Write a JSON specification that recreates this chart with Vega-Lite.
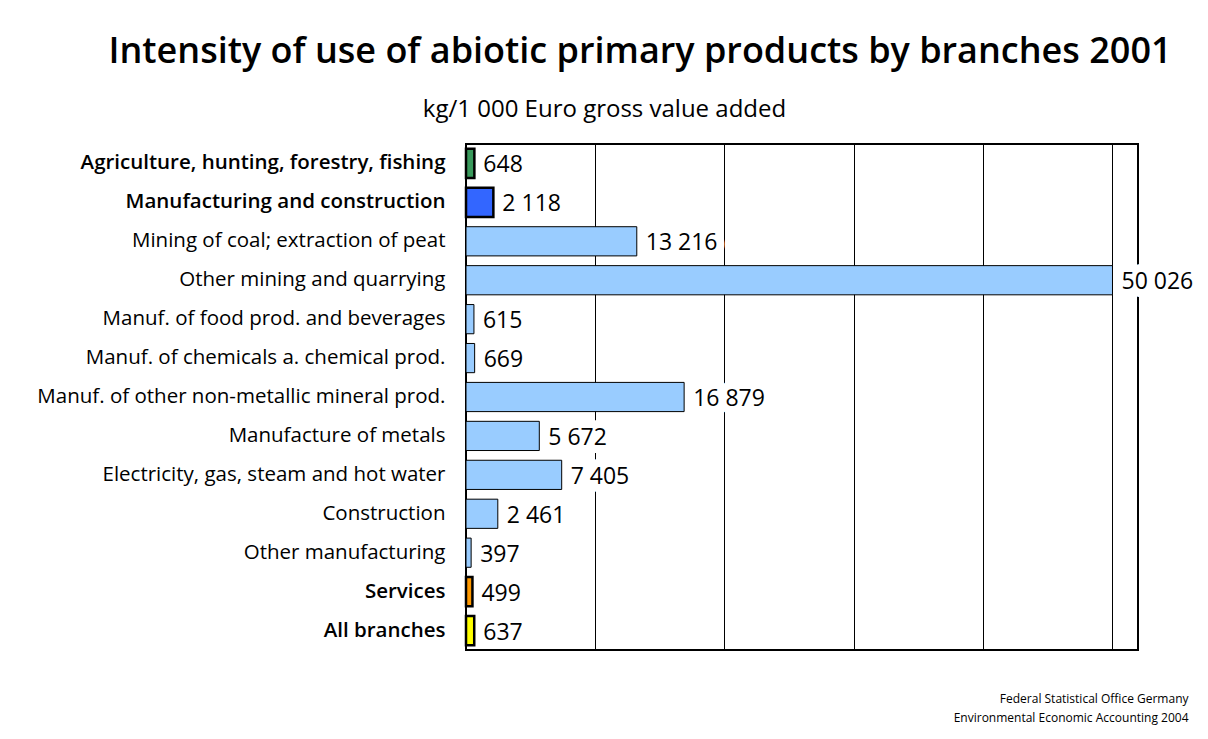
{
  "$schema": "https://vega.github.io/schema/vega-lite/v6.json",
  "width": 672,
  "height": 506,
  "autosize": {"type": "none"},
  "padding": {"left": 466, "top": 144, "right": 70, "bottom": 89},
  "background": "white",
  "config": {
    "font": "Open Sans",
    "view": {"stroke": "black", "strokeWidth": 2},
    "locale": {"number": {"decimal": ".", "thousands": " ", "grouping": [3], "currency": ["", ""]}}
  },
  "title": {
    "text": "Intensity of use of abiotic primary products by branches 2001",
    "fontSize": 36,
    "fontWeight": 600,
    "color": "black",
    "anchor": "middle",
    "frame": "group",
    "dx": -162,
    "offset": 20,
    "dy": -6
  },
  "data": {
    "values": [
      {"branch": "Agriculture, hunting, forestry, fishing", "value": 648, "group": "agri"},
      {"branch": "Manufacturing and construction", "value": 2118, "group": "manu"},
      {"branch": "Mining of coal; extraction of peat", "value": 13216, "group": "sub"},
      {"branch": "Other mining and quarrying", "value": 50026, "group": "sub"},
      {"branch": "Manuf. of food prod. and beverages", "value": 615, "group": "sub"},
      {"branch": "Manuf. of chemicals a. chemical prod.", "value": 669, "group": "sub"},
      {"branch": "Manuf. of other non-metallic mineral prod.", "value": 16879, "group": "sub"},
      {"branch": "Manufacture of metals", "value": 5672, "group": "sub"},
      {"branch": "Electricity, gas, steam and hot water", "value": 7405, "group": "sub"},
      {"branch": "Construction", "value": 2461, "group": "sub"},
      {"branch": "Other manufacturing", "value": 397, "group": "sub"},
      {"branch": "Services", "value": 499, "group": "serv"},
      {"branch": "All branches", "value": 637, "group": "all"}
    ]
  },
  "encoding": {
    "y": {
      "field": "branch",
      "type": "nominal",
      "sort": null,
      "scale": {"paddingInner": 0.25, "paddingOuter": 0.125},
      "axis": {
        "title": null,
        "ticks": false,
        "domain": false,
        "labelFontSize": 20.5,
        "labelColor": "black",
        "labelPadding": 21,
        "labelLimit": 466,
        "labelFontWeight": {
          "condition": {"test": "indexof(['Agriculture, hunting, forestry, fishing','Manufacturing and construction','Services','All branches'], datum.value) >= 0", "value": 600},
          "value": "normal"
        }
      }
    }
  },
  "layer": [
    {
      "mark": {"type": "text", "align": "left", "baseline": "middle", "dx": 9, "dy": 2, "fontSize": 23, "color": "white", "stroke": "white", "strokeWidth": 16, "strokeJoin": "round"},
      "encoding": {
        "x": {
          "field": "value",
          "type": "quantitative",
          "scale": {"domain": [0, 52000], "nice": false},
          "axis": {
            "orient": "top",
            "values": [10000, 20000, 30000, 40000, 50000],
            "labels": false,
            "ticks": false,
            "domain": false,
            "grid": true,
            "gridColor": "black",
            "gridWidth": 1,
            "gridOpacity": 1,
            "title": "kg/1 000 Euro gross value added",
            "titleFontSize": 24,
            "titleFontWeight": "normal",
            "titleColor": "black",
            "titleX": 138,
            "titleY": -28,
            "titleAlign": "center",
            "titleBaseline": "alphabetic"
          }
        },
        "text": {"field": "value", "type": "quantitative", "format": ",d"}
      }
    },
    {
      "mark": {"type": "bar", "stroke": "black"},
      "encoding": {
        "x": {"field": "value", "type": "quantitative", "axis": null},
        "color": {
          "field": "group",
          "type": "nominal",
          "legend": null,
          "scale": {
            "domain": ["agri", "manu", "sub", "serv", "all"],
            "range": ["#3a9a5c", "#3366ff", "#99ccff", "#ff9900", "#ffff00"]
          }
        },
        "strokeWidth": {
          "condition": {"test": "datum.group != 'sub'", "value": 2.5},
          "value": 1
        }
      }
    },
    {
      "mark": {"type": "text", "align": "left", "baseline": "middle", "dx": 9, "dy": 2, "fontSize": 23, "color": "black"},
      "encoding": {
        "x": {
          "field": "value",
          "type": "quantitative",
          "axis": {
            "orient": "bottom",
            "labels": false,
            "ticks": false,
            "domain": false,
            "grid": false,
            "title": ["Federal Statistical Office Germany", "Environmental Economic Accounting 2004"],
            "titleFontSize": 12,
            "titleFontWeight": "normal",
            "titleColor": "black",
            "titleAlign": "right",
            "titleBaseline": "alphabetic",
            "titleLineHeight": 19,
            "titleX": 722,
            "titleY": 52
          }
        },
        "text": {"field": "value", "type": "quantitative", "format": ",d"}
      }
    }
  ]
}
